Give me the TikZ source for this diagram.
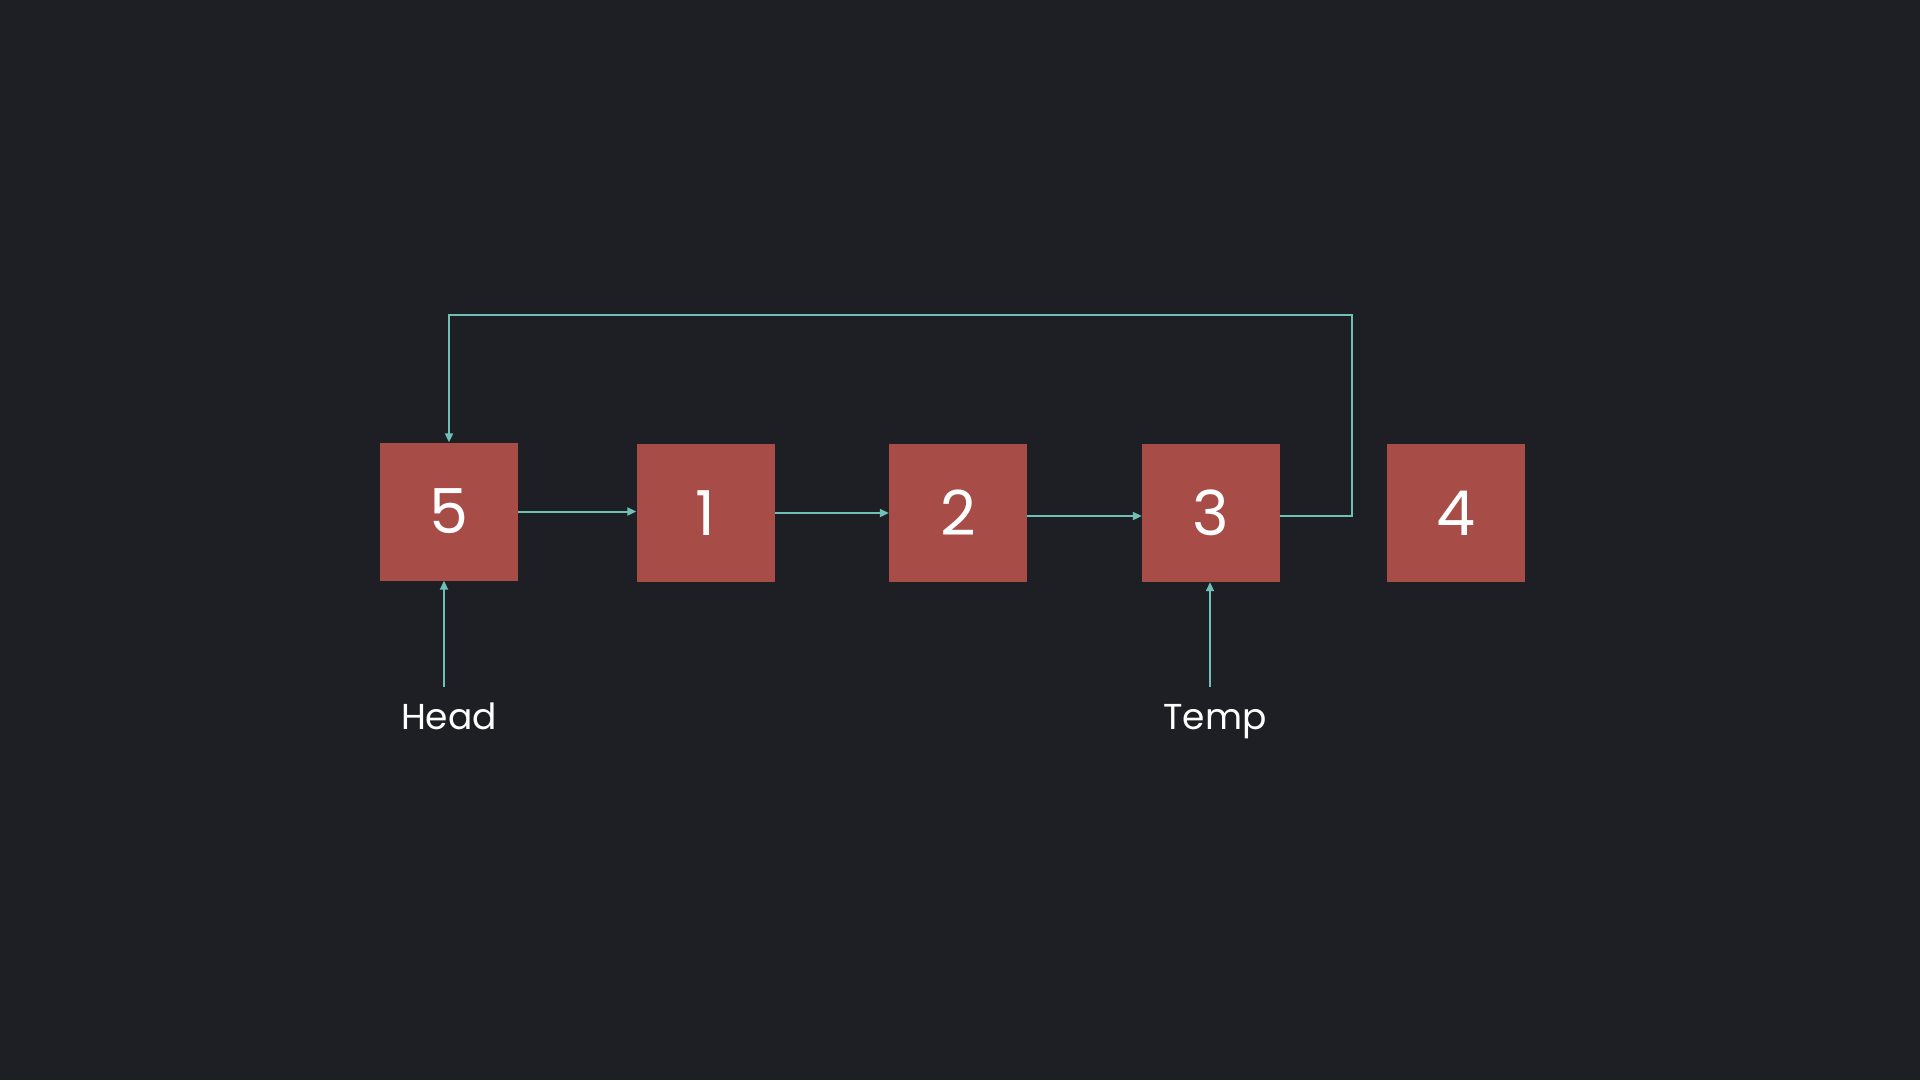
\documentclass[tikz,border=0pt]{standalone}
\usepackage{fontspec}
\setmainfont{Poppins}
\usetikzlibrary{arrows.meta}
\definecolor{bg}{HTML}{1D1F25}
\definecolor{boxc}{HTML}{A84C48}
\definecolor{linkc}{HTML}{6FC0B6}
\begin{document}
\begin{tikzpicture}[x=1pt,y=-1pt,
  nodebox/.style={fill=boxc,minimum width=138pt,minimum height=138pt,inner sep=0pt,text=white,font=\fontsize{62}{62}\selectfont},
  link/.style={draw=linkc,line width=2pt,-{Triangle[length=9pt,width=8pt]}},
  lbl/.style={text=white,font=\fontsize{36}{36}\selectfont,anchor=base,inner sep=0pt}]
\fill[bg] (0,0) rectangle (1920,1080);
\useasboundingbox (0,0) rectangle (1920,1080);
\node[nodebox] (n5) at (449,511.5) {5};
\node[nodebox] (n1) at (705.5,513) {1};
\node[nodebox] (n2) at (958,513) {2};
\node[nodebox] (n3) at (1211,513) {3};
\node[nodebox] (n4) at (1455.5,513) {4};
\draw[link] (n5.east) -- (n1.west |- n5.east);
\draw[link] (n1.east) -- (n2.west);
\draw[link] ([yshift=-3pt]n2.east) -- ([yshift=-3pt]n3.west);
\coordinate (tr) at (1352,315);
\coordinate (tl) at (449,315);
\draw[link] ([yshift=-3pt]n3.east) -| (tr) -- (tl) -- (n5.north);
\node[lbl] (head) at (449,729) {Head};
\node[lbl] (temp) at (1215,729) {Temp};
\coordinate (hs) at (444,687);
\coordinate (ts) at (1210,687);
\draw[link] (hs) -- (hs |- n5.south);
\draw[link] (ts) -- (ts |- n3.south);
\end{tikzpicture}
\end{document}
